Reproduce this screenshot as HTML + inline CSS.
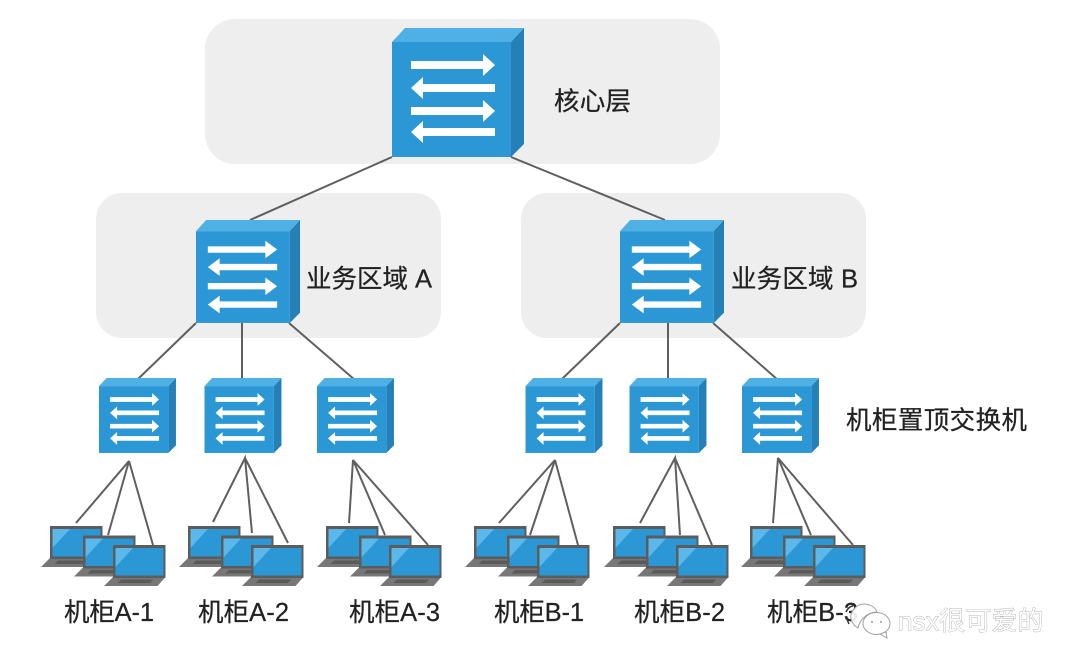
<!DOCTYPE html>
<html lang="zh">
<head>
<meta charset="utf-8">
<title>网络分层架构</title>
<style>
html,body{margin:0;padding:0;background:#fff;width:1080px;height:667px;overflow:hidden}
svg{display:block}
text{font-family:"Liberation Sans","Noto Sans CJK SC",sans-serif;font-size:25.5px;fill:#222;stroke:#222;stroke-width:.25}
.l{stroke:#5f5f5f;stroke-width:2;fill:none}
.wm{font-size:26px;fill:#fff;stroke:#9a9a9a;stroke-width:.7;paint-order:stroke}
</style>
</head>
<body>
<svg width="1080" height="667" viewBox="0 0 1080 667" xmlns="http://www.w3.org/2000/svg">
<defs>
<g id="box">
<polygon points="0,14 13,0 132,0 119,14" fill="#4fb0e6"/>
<polygon points="119,14 132,0 132,116 119,129" fill="#2580b8"/>
<rect x="0" y="14" width="119" height="115" fill="#2b97d5"/>
</g>
<g id="sw">
<use href="#box"/>
<g fill="#fff">
<polygon points="19,33 91,33 91,26 103,37 91,48 91,41 19,41"/>
<polygon points="103,56 31,56 31,49 19,60 31,71 31,64 103,64"/>
<polygon points="19,79 91,79 91,72 103,83 91,94 91,87 19,87"/>
<polygon points="103,100 31,100 31,93 19,104 31,115 31,108 103,108"/>
</g>
</g>
<g id="sw2">
<use href="#box"/>
<g fill="#fff">
<polygon points="15,33 88,33 88,26 103,37 88,48 88,41 15,41"/>
<polygon points="103,55 30,55 30,48 15,59 30,70 30,63 103,63"/>
<polygon points="15,79 88,79 88,72 103,83 88,94 88,87 15,87"/>
<polygon points="103,102 30,102 30,95 15,106 30,117 30,110 103,110"/>
</g>
</g>
<g id="lap">
<polygon points="0,32 52.500,32 44.500,41 -9,41" fill="#777"/>
<polygon points="8,34.500 40,34.500 37,38 4.500,38" fill="#5a5a5a"/>
<rect x="0" y="0" width="52.500" height="33" fill="#5c5c5c"/>
<rect x="2.500" y="3" width="48" height="27.500" fill="#2b97d5"/>
<polygon points="2.500,3 20,3 2.500,22" fill="#5ab8ea"/>
</g>
<g id="lg">
<use href="#lap" x="0" y="0"/>
<use href="#lap" x="33" y="9.500"/>
<use href="#lap" x="63" y="19"/>
</g>
</defs>

<rect x="205" y="19" width="515" height="145" rx="30" fill="#eeeeee"/>
<rect x="96" y="193" width="345" height="145" rx="26" fill="#eeeeee"/>
<rect x="521" y="193" width="345" height="145" rx="26" fill="#eeeeee"/>

<g class="l">
<line x1="392" y1="157" x2="250" y2="220"/>
<line x1="511" y1="157" x2="665" y2="220"/>
<line x1="196" y1="323" x2="138" y2="379"/>
<line x1="242" y1="323" x2="242" y2="379"/>
<line x1="289" y1="323" x2="355" y2="380"/>
<line x1="620" y1="323" x2="562" y2="379"/>
<line x1="668" y1="323" x2="668" y2="379"/>
<line x1="713" y1="323" x2="778" y2="380"/>
<path d="M76 523L129 461L108 535M129 461L153 545"/>
<path d="M213 522L245 458L252 533M245 458L288 543"/>
<path d="M349 523L353 460L385 535M353 460L428 545"/>
<path d="M499 523L555 460L530 535M555 460L578 545"/>
<path d="M640 523L675 458L680 535M675 458L712 545"/>
<path d="M773 523L778 458L811 535M778 458L853 545"/>
</g>

<use href="#sw" transform="translate(392,28)"/>
<use href="#sw2" transform="translate(196,220) scale(.788,.798)"/>
<use href="#sw2" transform="translate(620,220) scale(.788,.798)"/>
<use href="#sw" transform="translate(99,378) scale(.583,.581)"/>
<use href="#sw" transform="translate(204.500,378) scale(.583,.581)"/>
<use href="#sw" transform="translate(317,378) scale(.583,.581)"/>
<use href="#sw" transform="translate(525.500,378) scale(.583,.581)"/>
<use href="#sw" transform="translate(629.500,378) scale(.583,.581)"/>
<use href="#sw" transform="translate(742,378) scale(.583,.581)"/>

<use href="#lg" x="50" y="526"/>
<use href="#lg" x="188" y="526"/>
<use href="#lg" x="326" y="526"/>
<use href="#lg" x="474" y="526"/>
<use href="#lg" x="613" y="526"/>
<use href="#lg" x="750" y="526"/>

<text x="554" y="110" textLength="77">核心层</text>
<text x="306" y="287.500" textLength="126">业务区域 A</text>
<text x="731" y="287.500" textLength="127">业务区域 B</text>
<text x="846" y="429" textLength="181">机柜置顶交换机</text>
<text x="64" y="621" textLength="90">机柜A-1</text>
<text x="198" y="621" textLength="91">机柜A-2</text>
<text x="349" y="621" textLength="91">机柜A-3</text>
<text x="494" y="621" textLength="90">机柜B-1</text>
<text x="634" y="621" textLength="91">机柜B-2</text>
<text x="767" y="621" textLength="91">机柜B-3</text>

<g fill="#fff" stroke="#a0a0a0" stroke-width="1">
<path d="M858 628c-5-3-8-8-7-13c1-6 7-11 13-11c6 0 11 3 13 8c-8 0-17 6-19 16z" fill-opacity=".9"/>
<ellipse cx="876.500" cy="623.500" rx="13.500" ry="11"/>
<path d="M880 634l7 4l-1-6z"/>
</g>
<g fill="#999">
<circle cx="872" cy="622" r="1"/>
<circle cx="881" cy="622" r="1"/>
</g>
<path d="M846 612c2-4 4-6 7-6M846 617l3 7" stroke="#333" stroke-width="1.500" fill="none"/>
<text class="wm" x="898" y="630" letter-spacing=".2">nsx很可爱的</text>
</svg>
</body>
</html>
